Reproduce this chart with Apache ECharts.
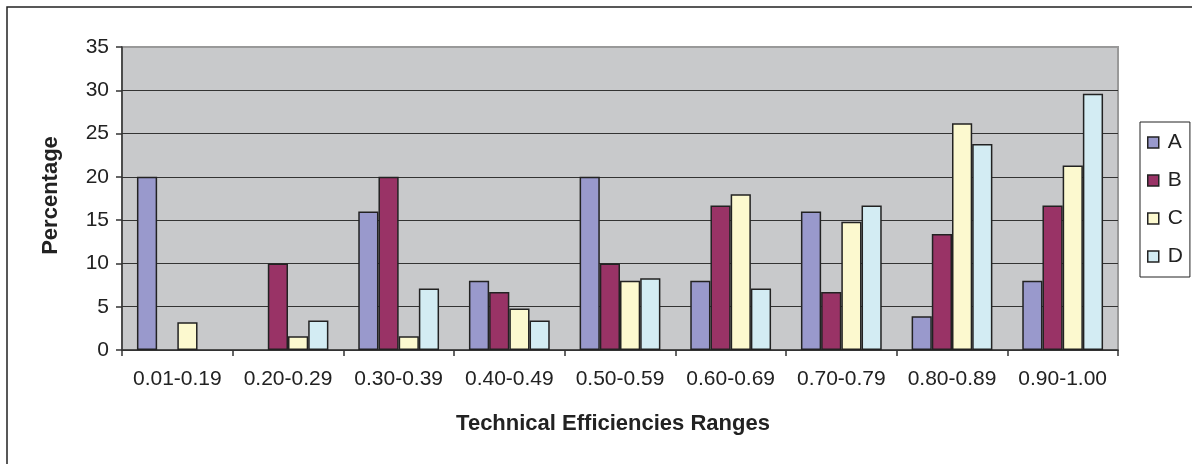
<!DOCTYPE html>
<html>
<head>
<meta charset="utf-8">
<script src="https://cdn.jsdelivr.net/npm/echarts@6/dist/echarts.min.js"></script>
<style>
html,body{margin:0;padding:0;background:#fff;}
#chart{width:1192px;height:464px;}
</style>
</head>
<body>
<div id="chart"></div>
<script>
const categories = ['0.01-0.19','0.20-0.29','0.30-0.39','0.40-0.49','0.50-0.59','0.60-0.69','0.70-0.79','0.80-0.89','0.90-1.00'];
const seriesNames = ['A','B','C','D'];
const valuesA = [20, 0, 16, 8, 20, 8, 16, 3.9, 8];
const valuesB = [0, 10, 20, 6.7, 10, 16.7, 6.7, 13.4, 16.7];
const valuesC = [3.2, 1.6, 1.6, 4.8, 8, 18, 14.8, 26.2, 21.3];
const valuesD = [0, 3.4, 7.1, 3.4, 8.3, 7.1, 16.7, 23.8, 29.6];
const yTicks = [0, 5, 10, 15, 20, 25, 30, 35];
const colors = ['#9999cc', '#993366', '#fcf9cf', '#d3ecf3'];

const allValues = [valuesA, valuesB, valuesC, valuesD];
const font = 'Liberation Sans, Arial, sans-serif';

const chart = echarts.init(document.getElementById('chart'), null, {renderer: 'canvas'});
chart.setOption({
  animation: false,
  backgroundColor: '#ffffff',
  graphic: [{
    type: 'rect',
    shape: {x: 7, y: 7, width: 1300, height: 600},
    style: {fill: 'none', stroke: '#222', lineWidth: 1.5},
    z: -1
  }],
  grid: {
    left: 122, right: 74, top: 47, bottom: 114,
    show: true, backgroundColor: '#c8c9cb', borderColor: '#999', borderWidth: 2
  },
  legend: {
    orient: 'vertical',
    left: 1140, top: 122,
    padding: [10, 7, 10, 7],
    itemWidth: 11, itemHeight: 11, itemGap: 17,
    icon: 'rect',
    backgroundColor: '#fff',
    borderColor: '#222', borderWidth: 1,
    textStyle: {fontFamily: font, fontSize: 21, color: '#222', padding: [0, 0, 0, 4]},
    itemStyle: {borderColor: '#222', borderWidth: 1.5},
    data: seriesNames
  },
  xAxis: {
    type: 'category',
    data: categories,
    boundaryGap: true,
    axisLine: {show: true, lineStyle: {color: '#333', width: 1.5}},
    axisTick: {show: true, interval: 0, alignWithLabel: false, length: 6, lineStyle: {color: '#333', width: 1.5}},
    axisLabel: {interval: 0, fontFamily: font, fontSize: 21, color: '#222', margin: 19},
    name: 'Technical Efficiencies Ranges',
    nameLocation: 'middle',
    nameGap: 63,
    nameTextStyle: {fontFamily: font, fontSize: 22, fontWeight: 'bold', color: '#222', padding: [0, 14, 0, 0]}
  },
  yAxis: {
    type: 'value',
    min: yTicks[0], max: yTicks[yTicks.length - 1], interval: 5,
    axisLine: {show: true, lineStyle: {color: '#333', width: 1.5}},
    axisTick: {show: true, inside: false, length: 6, lineStyle: {color: '#333', width: 1.5}},
    axisLabel: {fontFamily: font, fontSize: 21, color: '#222', margin: 13},
    splitLine: {show: true, lineStyle: {color: ['#333','#333','#333','#333','#333','#333','#333','#999'], width: 1.2}},
    name: 'Percentage',
    nameLocation: 'middle',
    nameGap: 60,
    nameRotate: 90,
    nameTextStyle: {fontFamily: font, fontSize: 22, fontWeight: 'bold', color: '#222', padding: [0, 0, 0, 6]}
  },
  series: seriesNames.map((n, i) => ({
    name: n,
    type: 'bar',
    data: allValues[i].map(v => (v === 0 ? null : v)),
    barGap: '0%',
    barCategoryGap: '27%',
    itemStyle: {color: colors[i], borderColor: '#222', borderWidth: 1.5}
  }))
});
</script>
</body>
</html>
